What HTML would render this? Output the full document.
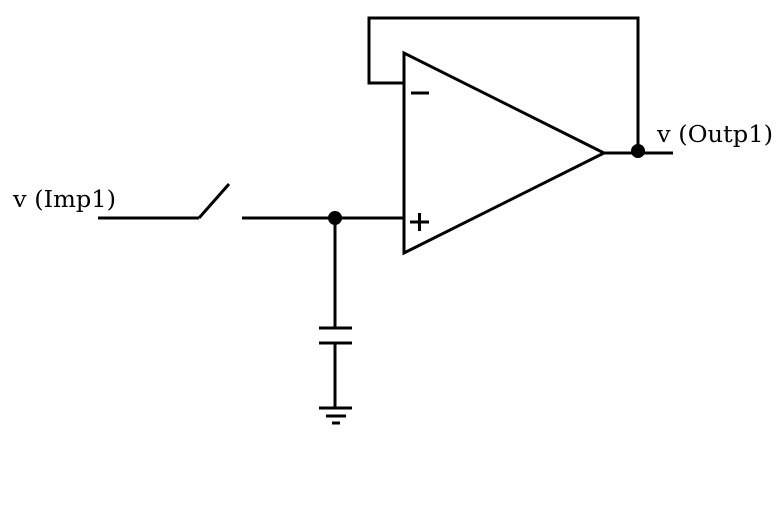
<!DOCTYPE html>
<html><head><style>body{margin:0;background:#fff}</style></head><body>
<svg width="777" height="512" xmlns="http://www.w3.org/2000/svg">
<g stroke="#000" stroke-width="3" fill="none">
<polygon points="404,53 404,253 604,153"/>
<polyline points="404,83 369,83 369,18 638,18 638,153"/>
<line x1="604" y1="153" x2="673" y2="153"/>
<line x1="98" y1="218" x2="199" y2="218"/>
<line x1="199" y1="218" x2="229" y2="184"/>
<line x1="242" y1="218" x2="404" y2="218"/>
<line x1="335" y1="218" x2="335" y2="328"/>
<line x1="319" y1="328" x2="352" y2="328"/>
<line x1="319" y1="343" x2="352" y2="343"/>
<line x1="335" y1="343" x2="335" y2="408"/>
<line x1="319" y1="408" x2="352" y2="408"/>
<line x1="326" y1="416" x2="346" y2="416"/>
<line x1="332" y1="423" x2="340" y2="423"/>
<line x1="411" y1="93" x2="429" y2="93"/>
<line x1="410" y1="222" x2="429" y2="222"/>
<line x1="419.5" y1="213" x2="419.5" y2="231"/>
</g>
<circle cx="335" cy="218" r="7" fill="#000"/>
<circle cx="638" cy="151" r="7" fill="#000"/>
<g font-family="'DejaVu Serif','Liberation Serif',serif" font-size="23" fill="#000">
<text x="13" y="207" textLength="103" lengthAdjust="spacingAndGlyphs">v (Imp1)</text>
<text x="657" y="142" textLength="116" lengthAdjust="spacingAndGlyphs">v (Outp1)</text>
</g>
</svg>
</body></html>
